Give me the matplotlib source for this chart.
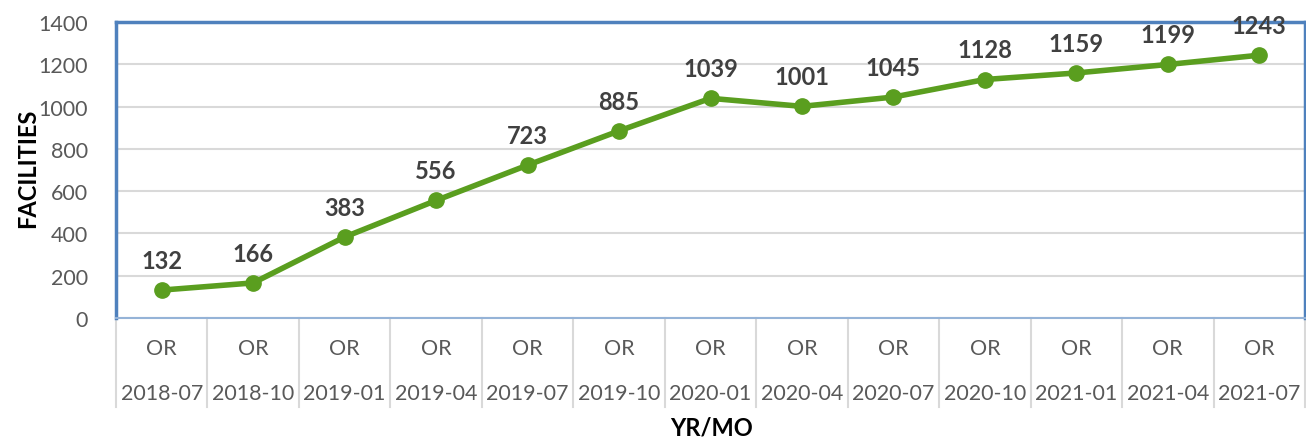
import numpy as np
import matplotlib
matplotlib.use('Agg')
import matplotlib.pyplot as plt

plt.rcParams['font.family'] = ['Lato', 'DejaVu Sans']

# chart data
periods = ['2018-07', '2018-10', '2019-01', '2019-04', '2019-07', '2019-10', '2020-01',
           '2020-04', '2020-07', '2020-10', '2021-01', '2021-04', '2021-07']
state = 'OR'
facilities = [132, 166, 383, 556, 723, 885, 1039, 1001, 1045, 1128, 1159, 1199, 1243]
y_ticks = [0, 200, 400, 600, 800, 1000, 1200, 1400]

W, H = 1306, 439
fig = plt.figure(figsize=(W / 100, H / 100), dpi=100)
ax = fig.add_axes([116 / W, (H - 319) / H, (1305 - 116) / W, (319 - 23) / H])

x = np.arange(len(periods))
ax.plot(x, facilities, color='#5A9E1F', linewidth=4, marker='o', markersize=11, zorder=3)
for xi, v in zip(x, facilities):
    ax.annotate(str(v), (xi, v), xytext=(0, 13), textcoords='offset points',
                ha='center', va='bottom', fontsize=17, fontweight='bold', color='#404040',
                zorder=4)

ax.set_xlim(-0.5, len(periods) - 0.5)
ax.set_ylim(0, 1400)
ax.set_yticks(y_ticks)
ax.tick_params(axis='y', length=0, pad=20, labelsize=15.5, labelcolor='#595959')
ax.set_xticks([])
ax.grid(axis='y', color='#D9D9D9', linewidth=1.5)
ax.set_axisbelow(True)
for side in ['left', 'top', 'right']:
    ax.spines[side].set_color('#4F81BD')
    ax.spines[side].set_linewidth(2.5)
ax.spines['bottom'].set_color('#95B3D7')
ax.spines['bottom'].set_linewidth(1.5)

# two-level category axis
trans = ax.get_xaxis_transform()
sep_bottom = -(408 - 319) / 296
for i in range(len(periods) + 1):
    ax.plot([i - 0.5, i - 0.5], [0, sep_bottom], transform=trans, color='#D9D9D9',
            linewidth=1.5, clip_on=False)
for xi, p in zip(x, periods):
    ax.text(xi, -(349 - 319) / 296, state, transform=trans, ha='center', va='center',
            fontsize=15.5, color='#595959')
    ax.text(xi, -(394 - 319) / 296, p, transform=trans, ha='center', va='center',
            fontsize=15.5, color='#595959')

fig.text(711 / W, 1 - 428 / H, 'YR/MO', ha='center', va='center', fontsize=17,
         fontweight='bold', color='black')
fig.text(28 / W, 1 - 168 / H, 'FACILITIES', ha='center', va='center', rotation=90,
         fontsize=17, fontweight='bold', color='black')

fig.savefig('out.png', dpi=100)
